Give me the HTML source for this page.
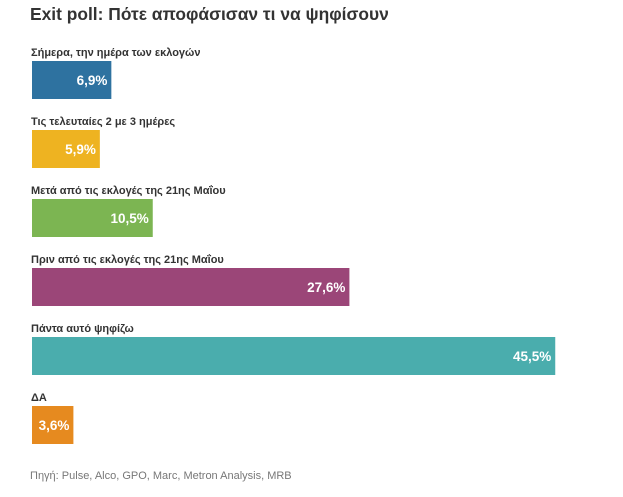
<!DOCTYPE html>
<html><head><meta charset="utf-8"><style>
body{margin:0;background:#fff;width:623px;height:492px;overflow:hidden;font-family:"Liberation Sans","DejaVu Sans",sans-serif;}
svg text{font-family:"Liberation Sans","DejaVu Sans",sans-serif;}
</style></head><body>
<svg id="chart" width="623" height="492" xmlns="http://www.w3.org/2000/svg">
<text x="30" y="20" font-size="17.4" font-weight="bold" fill="#333">Exit poll: Πότε αποφάσισαν τι να ψηφίσουν</text>
<g id="bars"></g>
<text x="30" y="479" font-size="11" fill="#777">Πηγή: Pulse, Alco, GPO, Marc, Metron Analysis, MRB</text>
</svg>
<script>
const categories = ["Σήμερα, την ημέρα των εκλογών","Τις τελευταίες 2 με 3 ημέρες","Μετά από τις εκλογές της 21ης Μαΐου","Πριν από τις εκλογές της 21ης Μαΐου","Πάντα αυτό ψηφίζω","ΔΑ"];
const values = [6.9, 5.9, 10.5, 27.6, 45.5, 3.6];
const valueLabels = ["6,9%","5,9%","10,5%","27,6%","45,5%","3,6%"];
const colors = ["#2e72a0","#eeb321","#7cb552","#9b4678","#4aadad","#e68a1f"];
const x0 = 32, pxPer = 11.5;
const xScale = v => v * pxPer;
const yScale = i => 61 + i * 69;
const ns = "http://www.w3.org/2000/svg";
const g = document.getElementById("bars");
categories.forEach((c, i) => {
  const y = yScale(i), w = xScale(values[i]);
  const lab = document.createElementNS(ns, "text");
  
  
  lab.setAttribute("x", 31); lab.setAttribute("y", y - 5);
  lab.setAttribute("font-size", "11"); lab.setAttribute("font-weight", "bold"); lab.setAttribute("fill", "#333");
  lab.textContent = c; g.appendChild(lab);
  const r = document.createElementNS(ns, "rect");
  
  
  r.setAttribute("x", x0); r.setAttribute("y", y); r.setAttribute("width", w); r.setAttribute("height", 38);
  r.setAttribute("fill", colors[i]); g.appendChild(r);
  const t = document.createElementNS(ns, "text");
  
  
  t.setAttribute("x", x0 + w - 4); t.setAttribute("y", y + 24);
  t.setAttribute("text-anchor", "end"); t.setAttribute("font-size", "13.5"); t.setAttribute("font-weight", "bold"); t.setAttribute("fill", "#fff");
  t.textContent = valueLabels[i]; g.appendChild(t);
});
</script>
</body></html>
